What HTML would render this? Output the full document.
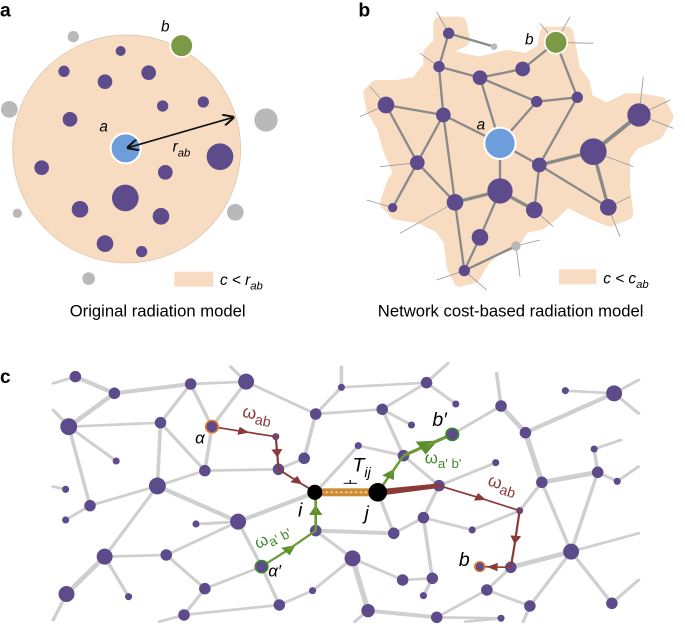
<!DOCTYPE html>
<html><head><meta charset="utf-8"><style>
html,body{margin:0;padding:0;background:#fff;overflow:hidden;}
svg{display:block;font-family:"Liberation Sans",sans-serif;}
</style></head><body>
<svg id="root" width="685" height="627" viewBox="0 0 685 627" xmlns="http://www.w3.org/2000/svg">
<defs>
<marker id="ar" viewBox="0 0 10 10" refX="5" refY="5" markerWidth="5" markerHeight="5" orient="auto"><path d="M0,0L10,5L0,10z" fill="#8b3a3a"/></marker>
<marker id="ag" viewBox="0 0 10 10" refX="5" refY="5" markerWidth="5" markerHeight="5" orient="auto"><path d="M0,0L10,5L0,10z" fill="#5d8f2e"/></marker>
<marker id="ak" viewBox="0 0 10 10" refX="9" refY="5" markerWidth="7" markerHeight="7" orient="auto-start-reverse"><path d="M0,0L10,5L0,10" fill="none" stroke="#111" stroke-width="1.8"/></marker>
</defs>

<!-- Panel a -->
<g transform="scale(0.3333)">
<text x="0" y="50" font-size="58" font-weight="bold">a</text>
<circle cx="380" cy="447" r="342" fill="#f7dcc2" stroke="#d9c2ad" stroke-width="2"/>
<g fill="#b9b9b9">
<circle cx="220" cy="110" r="17"/><circle cx="28" cy="328" r="25"/><circle cx="798" cy="360" r="35"/>
<circle cx="52" cy="640" r="14"/><circle cx="706" cy="637" r="25"/><circle cx="266" cy="836" r="19"/>
</g>
<g fill="#5e4b8b">
<circle cx="362" cy="153" r="15"/><circle cx="192" cy="214" r="17"/><circle cx="446" cy="218" r="22"/>
<circle cx="315" cy="245" r="22"/><circle cx="488" cy="318" r="17"/><circle cx="610" cy="306" r="17"/>
<circle cx="210" cy="358" r="22"/><circle cx="125" cy="503" r="22"/><circle cx="496" cy="517" r="22"/>
<circle cx="660" cy="470" r="40"/><circle cx="376" cy="594" r="40"/><circle cx="240" cy="628" r="25"/>
<circle cx="483" cy="649" r="25"/><circle cx="315" cy="731" r="25"/><circle cx="425" cy="755" r="17"/>
</g>
<circle cx="545" cy="137" r="34" fill="#7a9a45" stroke="#fff" stroke-width="5"/>
<circle cx="377" cy="445" r="45" fill="#6e9ddb" stroke="#fff" stroke-width="6"/>
<line x1="384" y1="443" x2="700" y2="352" stroke="#111" stroke-width="5" marker-start="url(#ak)" marker-end="url(#ak)"/>
<text x="298" y="395" font-size="46" font-style="italic">a</text>
<text x="483" y="95" font-size="46" font-style="italic">b</text>
<text x="518" y="455" font-size="46" font-style="italic">r<tspan font-size="34" dy="14">ab</tspan></text>
<rect x="523" y="815" width="117" height="45" fill="#f7dcc2"/>
<text x="660" y="855" font-size="46" font-style="italic">c &lt; r<tspan font-size="34" dy="14">ab</tspan></text>
<text x="473" y="950" font-size="50" text-anchor="middle">Original radiation model</text>
</g>

<!-- Panel b -->
<g transform="translate(340,0) scale(0.3333)">
<text x="55" y="50" font-size="58" font-weight="bold">b</text>
<path d="M300,70 L360,70 L370,120 L330,140 L320,170 L420,190 L500,170 L560,180 L610,150 L620,100 L680,100 L690,150 L700,210 L730,250 L740,300 L800,330 L860,300 L900,300 L960,310 L980,350 L950,400 L880,430 L850,470 L850,560 L860,640 L810,660 L760,640 L680,600 L640,640 L600,670 L550,680 L520,730 L470,740 L430,780 L400,830 L360,840 L340,800 L330,720 L300,680 L240,650 L170,640 L140,610 L160,550 L180,520 L150,450 L130,380 L100,330 L90,280 L110,260 L170,260 L230,250 L270,200 L270,160 L300,130 Z" fill="#f7dcc2" stroke="#f7dcc2" stroke-width="40" stroke-linejoin="round"/>
<g stroke="#999" stroke-width="2.5">
<line x1="326" y1="100" x2="290" y2="35"/><line x1="648" y1="127" x2="600" y2="70"/><line x1="648" y1="127" x2="690" y2="50"/><line x1="648" y1="127" x2="760" y2="130"/>
<line x1="138" y1="315" x2="60" y2="350"/><line x1="138" y1="315" x2="90" y2="260"/><line x1="897" y1="345" x2="910" y2="230"/><line x1="897" y1="345" x2="1000" y2="385"/><line x1="897" y1="345" x2="990" y2="300"/>
<line x1="760" y1="455" x2="880" y2="500"/><line x1="805" y1="622" x2="840" y2="710"/><line x1="805" y1="622" x2="870" y2="590"/>
<line x1="158" y1="623" x2="80" y2="600"/><line x1="345" y1="607" x2="180" y2="700"/><line x1="232" y1="488" x2="120" y2="500"/>
<line x1="373" y1="812" x2="290" y2="840"/><line x1="373" y1="812" x2="440" y2="870"/><line x1="528" y1="738" x2="540" y2="830"/><line x1="528" y1="738" x2="600" y2="720"/>
<line x1="583" y1="630" x2="640" y2="680"/><line x1="297" y1="200" x2="240" y2="160"/>
</g>
<g stroke="#8a8a8a" stroke-width="7" stroke-linecap="round">
<line x1="326" y1="100" x2="297" y2="200"/><line x1="326" y1="100" x2="462" y2="140"/><line x1="297" y1="200" x2="420" y2="233"/><line x1="297" y1="200" x2="310" y2="345"/>
<line x1="420" y1="233" x2="548" y2="207"/><line x1="548" y1="207" x2="648" y2="127"/><line x1="648" y1="127" x2="712" y2="292"/><line x1="420" y1="233" x2="480" y2="430"/>
<line x1="420" y1="233" x2="590" y2="305"/><line x1="590" y1="305" x2="712" y2="292"/><line x1="590" y1="305" x2="480" y2="430"/><line x1="712" y1="292" x2="598" y2="495"/>
<line x1="138" y1="315" x2="310" y2="345"/><line x1="138" y1="315" x2="232" y2="488"/><line x1="310" y1="345" x2="480" y2="430"/><line x1="310" y1="345" x2="232" y2="488"/>
<line x1="310" y1="345" x2="345" y2="607"/><line x1="480" y1="430" x2="598" y2="495"/><line x1="480" y1="430" x2="480" y2="573"/><line x1="598" y1="495" x2="760" y2="455" stroke-width="10"/>
<line x1="598" y1="495" x2="583" y2="630"/><line x1="598" y1="495" x2="805" y2="622"/><line x1="760" y1="455" x2="897" y2="345" stroke-width="12"/><line x1="760" y1="455" x2="805" y2="622" stroke-width="10"/>
<line x1="232" y1="488" x2="158" y2="623"/><line x1="232" y1="488" x2="345" y2="607"/><line x1="345" y1="607" x2="480" y2="573" stroke-width="10"/><line x1="345" y1="607" x2="373" y2="812"/>
<line x1="480" y1="573" x2="583" y2="630" stroke-width="10"/><line x1="480" y1="573" x2="420" y2="712"/><line x1="420" y1="712" x2="373" y2="812"/><line x1="373" y1="812" x2="528" y2="738"/>
</g>
<g fill="#5e4b8b">
<circle cx="326" cy="100" r="17"/><circle cx="297" cy="200" r="17"/><circle cx="420" cy="233" r="22"/><circle cx="548" cy="207" r="22"/>
<circle cx="590" cy="305" r="17"/><circle cx="712" cy="292" r="17"/><circle cx="138" cy="315" r="25"/><circle cx="310" cy="345" r="22"/>
<circle cx="232" cy="488" r="22"/><circle cx="598" cy="495" r="22"/><circle cx="760" cy="455" r="40"/><circle cx="897" cy="345" r="35"/>
<circle cx="480" cy="573" r="38"/><circle cx="345" cy="607" r="25"/><circle cx="158" cy="623" r="14"/><circle cx="583" cy="630" r="25"/>
<circle cx="805" cy="622" r="25"/><circle cx="420" cy="712" r="25"/><circle cx="373" cy="812" r="17"/>
</g>
<circle cx="462" cy="140" r="10" fill="#b9b9b9"/><circle cx="528" cy="738" r="14" fill="#b9b9b9"/>
<circle cx="648" cy="127" r="34" fill="#7a9a45" stroke="#fff" stroke-width="5"/>
<circle cx="480" cy="430" r="47" fill="#6e9ddb" stroke="#fff" stroke-width="6"/>
<text x="410" y="388" font-size="46" font-style="italic">a</text>
<text x="555" y="133" font-size="46" font-style="italic">b</text>
<rect x="657" y="808" width="112" height="45" fill="#f7dcc2"/>
<text x="790" y="850" font-size="46" font-style="italic">c &lt; c<tspan font-size="34" dy="14">ab</tspan></text>
<text x="512" y="950" font-size="50" text-anchor="middle">Network cost-based radiation model</text>
</g>

<!-- Panel c -->
<text x="0" y="383" font-size="19" font-weight="bold">c</text>
<g id="gc" transform="translate(0,320) scale(0.4434,0.3333)">
<g stroke="#cfcfcf" stroke-width="8" stroke-linecap="round" fill="none">
<line x1="170" y1="170" x2="120" y2="190"/><line x1="155" y1="320" x2="120" y2="270"/><line x1="555" y1="185" x2="520" y2="140"/><line x1="770" y1="202" x2="770" y2="140"/><line x1="962" y1="188" x2="1010" y2="130"/><line x1="1385" y1="220" x2="1440" y2="180"/><line x1="1385" y1="220" x2="1440" y2="280"/><line x1="1392" y1="484" x2="1440" y2="440"/><line x1="1130" y1="258" x2="1120" y2="160"/><line x1="1340" y1="387" x2="1400" y2="360"/><line x1="1380" y1="850" x2="1440" y2="780"/><line x1="150" y1="822" x2="120" y2="900"/><line x1="415" y1="885" x2="360" y2="905"/><line x1="830" y1="872" x2="800" y2="905"/><line x1="1195" y1="858" x2="1180" y2="905"/><line x1="148" y1="508" x2="120" y2="500"/><line x1="1288" y1="695" x2="1440" y2="640"/><line x1="1130" y1="895" x2="1050" y2="905"/>
<line x1="170" y1="170" x2="258" y2="220" stroke-width="12"/><line x1="258" y1="220" x2="430" y2="192" stroke-width="12"/><line x1="430" y1="192" x2="555" y2="185"/><line x1="258" y1="220" x2="155" y2="320" stroke-width="12"/>
<line x1="155" y1="320" x2="362" y2="308"/><line x1="362" y1="308" x2="430" y2="192"/><line x1="430" y1="192" x2="478" y2="320"/><line x1="555" y1="185" x2="478" y2="320"/>
<line x1="555" y1="185" x2="712" y2="282"/><line x1="362" y1="308" x2="462" y2="452"/><line x1="478" y1="320" x2="462" y2="452"/><line x1="362" y1="308" x2="355" y2="498"/>
<line x1="155" y1="320" x2="262" y2="423"/><line x1="155" y1="320" x2="203" y2="557"/><line x1="462" y1="452" x2="355" y2="498"/><line x1="462" y1="452" x2="628" y2="448"/>
<line x1="686" y1="415" x2="712" y2="282"/><line x1="712" y1="282" x2="770" y2="202"/><line x1="770" y1="202" x2="962" y2="188"/><line x1="712" y1="282" x2="862" y2="268"/>
<line x1="862" y1="268" x2="962" y2="188"/><line x1="962" y1="188" x2="1028" y2="252"/><line x1="862" y1="268" x2="928" y2="315"/><line x1="862" y1="268" x2="910" y2="407"/>
<line x1="808" y1="377" x2="910" y2="407"/><line x1="910" y1="407" x2="990" y2="497"/><line x1="1020" y1="343" x2="1130" y2="258"/><line x1="1130" y1="258" x2="1185" y2="338" stroke-width="12"/>
<line x1="1275" y1="212" x2="1385" y2="220"/><line x1="1185" y1="338" x2="1385" y2="220" stroke-width="12"/><line x1="1185" y1="338" x2="1222" y2="487" stroke-width="12"/><line x1="1222" y1="487" x2="1348" y2="457" stroke-width="14"/>
<line x1="1348" y1="457" x2="1340" y2="387"/><line x1="1348" y1="457" x2="1392" y2="484"/><line x1="1348" y1="457" x2="1288" y2="695"/><line x1="1222" y1="487" x2="1172" y2="572"/>
<line x1="1222" y1="487" x2="1288" y2="695"/><line x1="990" y1="497" x2="1118" y2="428"/><line x1="990" y1="497" x2="955" y2="593"/><line x1="955" y1="593" x2="888" y2="640"/>
<line x1="955" y1="593" x2="1065" y2="630"/><line x1="355" y1="498" x2="537" y2="605" stroke-width="12"/><line x1="355" y1="498" x2="203" y2="557"/><line x1="355" y1="498" x2="236" y2="710"/>
<line x1="537" y1="605" x2="712" y2="517" stroke-width="12"/><line x1="537" y1="605" x2="590" y2="740"/><line x1="537" y1="605" x2="442" y2="612"/><line x1="537" y1="605" x2="375" y2="705"/>
<line x1="712" y1="632" x2="888" y2="640" stroke-width="12"/><line x1="712" y1="632" x2="795" y2="715"/><line x1="888" y1="640" x2="852" y2="517"/><line x1="236" y1="710" x2="375" y2="705"/>
<line x1="236" y1="710" x2="150" y2="822" stroke-width="12"/><line x1="236" y1="710" x2="290" y2="830"/><line x1="375" y1="705" x2="462" y2="806"/><line x1="462" y1="806" x2="590" y2="740"/>
<line x1="590" y1="740" x2="630" y2="855"/><line x1="795" y1="715" x2="830" y2="872" stroke-width="12"/><line x1="795" y1="715" x2="908" y2="780"/><line x1="908" y1="780" x2="975" y2="775"/>
<line x1="975" y1="775" x2="955" y2="827"/><line x1="955" y1="593" x2="975" y2="775"/><line x1="830" y1="872" x2="985" y2="892" stroke-width="12"/><line x1="985" y1="892" x2="1098" y2="810"/>
<line x1="1098" y1="810" x2="1152" y2="742"/><line x1="1152" y1="742" x2="1288" y2="695" stroke-width="14"/><line x1="1098" y1="810" x2="1195" y2="858"/><line x1="1288" y1="695" x2="1380" y2="850"/>
<line x1="1195" y1="858" x2="1288" y2="695"/><line x1="462" y1="806" x2="415" y2="885"/><line x1="630" y1="855" x2="415" y2="885"/><line x1="1065" y1="630" x2="1172" y2="572"/>
<line x1="712" y1="282" x2="686" y2="415"/><line x1="628" y1="448" x2="686" y2="415"/><line x1="462" y1="612" x2="537" y2="605"/><line x1="630" y1="855" x2="705" y2="812"/>
<line x1="705" y1="812" x2="795" y2="715"/><line x1="148" y1="600" x2="203" y2="557"/><line x1="808" y1="377" x2="712" y2="517"/><line x1="985" y1="892" x2="1130" y2="895"/>
</g>
<g fill="#5e4b8b">
<circle cx="170" cy="170" r="13"/><circle cx="258" cy="220" r="13"/><circle cx="430" cy="192" r="13"/><circle cx="555" cy="185" r="18"/>
<circle cx="155" cy="320" r="19"/><circle cx="362" cy="308" r="13"/><circle cx="622" cy="350" r="8"/><circle cx="262" cy="423" r="8"/>
<circle cx="462" cy="452" r="13"/><circle cx="628" cy="448" r="13"/><circle cx="686" cy="415" r="13"/><circle cx="712" cy="282" r="13"/>
<circle cx="770" cy="202" r="8"/><circle cx="962" cy="188" r="13"/><circle cx="862" cy="268" r="13"/><circle cx="1028" cy="252" r="8"/>
<circle cx="928" cy="315" r="8"/><circle cx="808" cy="377" r="8"/><circle cx="910" cy="407" r="13"/><circle cx="1130" cy="258" r="13"/>
<circle cx="1185" cy="338" r="13"/><circle cx="1275" cy="212" r="8"/><circle cx="1385" cy="220" r="18"/><circle cx="1340" cy="387" r="8"/>
<circle cx="1118" cy="428" r="8"/><circle cx="1348" cy="457" r="13"/><circle cx="1392" cy="484" r="8"/><circle cx="1222" cy="487" r="13"/>
<circle cx="990" cy="497" r="13"/><circle cx="355" cy="498" r="19"/><circle cx="148" cy="508" r="8"/><circle cx="203" cy="557" r="13"/>
<circle cx="148" cy="600" r="8"/><circle cx="442" cy="612" r="8"/><circle cx="537" cy="605" r="18"/><circle cx="712" cy="632" r="13"/>
<circle cx="888" cy="640" r="13"/><circle cx="955" cy="593" r="13"/><circle cx="1065" cy="630" r="8"/><circle cx="1172" cy="572" r="8"/>
<circle cx="1288" cy="695" r="18"/><circle cx="236" cy="710" r="18"/><circle cx="375" cy="705" r="13"/><circle cx="795" cy="715" r="18"/>
<circle cx="1152" cy="742" r="13"/><circle cx="150" cy="822" r="18"/><circle cx="290" cy="830" r="8"/><circle cx="462" cy="806" r="13"/>
<circle cx="705" cy="812" r="8"/><circle cx="630" cy="855" r="13"/><circle cx="908" cy="780" r="13"/><circle cx="975" cy="775" r="13"/>
<circle cx="955" cy="827" r="8"/><circle cx="830" cy="872" r="15"/><circle cx="985" cy="892" r="13"/><circle cx="1098" cy="810" r="13"/>
<circle cx="1195" cy="858" r="13"/><circle cx="1380" cy="850" r="13"/><circle cx="415" cy="885" r="13"/><circle cx="1130" cy="895" r="8"/>
</g>
<g stroke="#8b3a3a" stroke-width="5" fill="none">
<line x1="478" y1="320" x2="550" y2="335" marker-end="url(#ar)"/><line x1="545" y1="334" x2="622" y2="350"/>
<line x1="622" y1="350" x2="625" y2="400" marker-end="url(#ar)"/><line x1="625" y1="395" x2="628" y2="448"/>
<line x1="628" y1="448" x2="672" y2="485" marker-end="url(#ar)"/><line x1="668" y1="482" x2="712" y2="517"/>
<path d="M852,508 L990,490 L990,504 L852,528 Z" fill="#8b3a3a" stroke="none"/>
<line x1="990" y1="497" x2="1085" y2="535" marker-end="url(#ar)"/><line x1="1080" y1="533" x2="1172" y2="572"/>
<line x1="1172" y1="572" x2="1162" y2="660" marker-end="url(#ar)"/><line x1="1163" y1="655" x2="1152" y2="742"/>
<line x1="1152" y1="742" x2="1110" y2="741" marker-end="url(#ar)"/><line x1="1115" y1="741" x2="1082" y2="740"/>
</g>
<g stroke="#6b9a3a" stroke-width="6" fill="none">
<line x1="590" y1="740" x2="655" y2="685" marker-end="url(#ag)"/><line x1="650" y1="689" x2="712" y2="632"/>
<line x1="712" y1="632" x2="712" y2="570" marker-end="url(#ag)"/><line x1="712" y1="575" x2="712" y2="517"/>
<line x1="852" y1="517" x2="882" y2="460" marker-end="url(#ag)"/><line x1="880" y1="465" x2="910" y2="407"/>
<line x1="910" y1="407" x2="968" y2="373" marker-end="url(#ag)" stroke-width="9"/><line x1="963" y1="376" x2="1020" y2="343" stroke-width="9"/>
</g>
<rect x="712" y="505" width="140" height="24" fill="#cf8a35"/>
<line x1="712" y1="517" x2="852" y2="517" stroke="#f3d39a" stroke-width="5" stroke-dasharray="6,5"/>
<line x1="775" y1="490" x2="805" y2="490" stroke="#111" stroke-width="3"/><line x1="790" y1="480" x2="790" y2="490" stroke="#111" stroke-width="3"/>
<circle cx="710" cy="517" r="17" fill="#000"/><circle cx="852" cy="517" r="21" fill="#000"/>
<circle cx="478" cy="320" r="14" fill="#5e4b8b" stroke="#e67a2a" stroke-width="4"/>
<circle cx="1082" cy="740" r="11" fill="#5e4b8b" stroke="#e67a2a" stroke-width="4"/>
<circle cx="1020" cy="343" r="14" fill="#5e4b8b" stroke="#3a8a2a" stroke-width="4"/>
<circle cx="590" cy="740" r="14" fill="#5e4b8b" stroke="#3a8a2a" stroke-width="4"/>
<g font-style="italic">
<text x="440" y="370" font-size="38">α</text>
<text x="605" y="770" font-size="38">α′</text>
<text x="975" y="318" font-size="44">b′</text>
<text x="1035" y="738" font-size="44">b</text>
<text x="672" y="590" font-size="44">i</text>
<text x="822" y="598" font-size="44">j</text>
<text x="795" y="455" font-size="44">T<tspan font-size="32" dy="12">ij</tspan></text>
</g>
<text x="545" y="290" font-size="40" fill="#8b3a3a" transform="rotate(12 545 290)">ω<tspan font-size="32" dy="10">ab</tspan></text>
<text x="1098" y="495" font-size="40" fill="#8b3a3a" transform="rotate(18 1098 495)">ω<tspan font-size="32" dy="10">ab</tspan></text>
<text x="958" y="430" font-size="38" fill="#3f8a2a">ω<tspan font-size="30" dy="10">a' b'</tspan></text>
<text x="582" y="688" font-size="38" fill="#3f8a2a" transform="rotate(-28 582 688)">ω<tspan font-size="30" dy="10">a' b'</tspan></text>
</g>
</svg>
<script>
(function(){
var ns="http://www.w3.org/2000/svg",k=0.4434/0.3333;
var g=document.getElementById("gc");
Array.prototype.slice.call(g.querySelectorAll("circle")).forEach(function(c){
  var e=document.createElementNS(ns,"ellipse");
  for(var i=0;i<c.attributes.length;i++){var a=c.attributes[i];if(a.name!=="r")e.setAttribute(a.name,a.value);}
  var r=parseFloat(c.getAttribute("r"));
  e.setAttribute("rx",r);e.setAttribute("ry",r*k);
  var p=c.parentNode; if(!e.getAttribute("fill")&&p.getAttribute("fill")){}
  p.replaceChild(e,c);
});
Array.prototype.slice.call(g.querySelectorAll("text")).forEach(function(t){
  var x=t.getAttribute("x"),y=t.getAttribute("y"),prev=t.getAttribute("transform")||"";
  t.setAttribute("transform","translate("+x+" "+y+") scale(1 "+k+") translate("+(-x)+" "+(-y)+") "+prev);
});
})();
</script>
</body></html>
